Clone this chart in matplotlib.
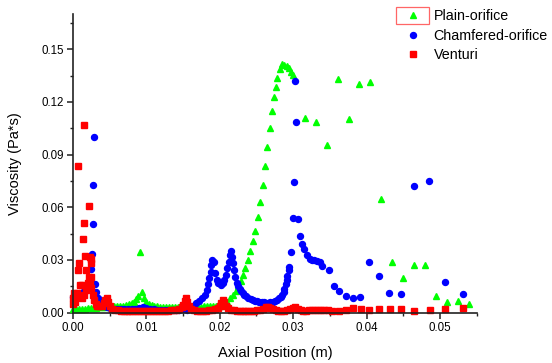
import matplotlib
matplotlib.use("Agg")
import matplotlib.pyplot as plt
from matplotlib.patches import Rectangle

plt.rcParams['font.family'] = ['Liberation Sans', 'DejaVu Sans']

# ---------------- data ----------------
plain_x = [0.0000, 0.0004, 0.0008, 0.0012, 0.0016, 0.0020, 0.0024, 0.0028, 0.0032, 0.0036,
           0.0040, 0.0044, 0.0048, 0.0052, 0.0056, 0.0060, 0.0064, 0.0068, 0.0072, 0.0076,
           0.0080, 0.0083, 0.0086, 0.0089, 0.0091, 0.0094, 0.0097, 0.0100, 0.0103, 0.0107,
           0.0111, 0.0115, 0.0119, 0.0123, 0.0127, 0.0131, 0.0135, 0.0139, 0.0143, 0.0147,
           0.0151, 0.0155, 0.0159, 0.0163, 0.0167, 0.0171, 0.0175, 0.0179, 0.0183, 0.0187,
           0.0191, 0.0195, 0.0200, 0.0205, 0.0210, 0.0214, 0.0218, 0.0222, 0.0225, 0.0229,
           0.0232, 0.0235, 0.0238, 0.0241, 0.0245, 0.0248, 0.0252, 0.0255, 0.0259, 0.0262,
           0.0265, 0.0268, 0.0271, 0.0274, 0.0276, 0.0278, 0.0282, 0.0285, 0.0288, 0.0291,
           0.0294, 0.0297, 0.0300, 0.0316, 0.0331, 0.0346, 0.0361, 0.0376, 0.0390, 0.0405,
           0.0420, 0.0435, 0.0450, 0.0465, 0.0480, 0.0495, 0.0510, 0.0525, 0.0540]
plain_y = [0.0020, 0.0022, 0.0022, 0.0023, 0.0023, 0.0024, 0.0024, 0.0026, 0.0028, 0.0030,
           0.0032, 0.0034, 0.0035, 0.0036, 0.0037, 0.0038, 0.0039, 0.0040, 0.0042, 0.0046,
           0.0052, 0.0062, 0.0075, 0.0092, 0.0345, 0.0118, 0.0085, 0.0062, 0.0050, 0.0042,
           0.0038, 0.0036, 0.0034, 0.0033, 0.0032, 0.0032, 0.0031, 0.0031, 0.0031, 0.0031,
           0.0031, 0.0031, 0.0032, 0.0032, 0.0033, 0.0033, 0.0034, 0.0035, 0.0036, 0.0037,
           0.0038, 0.0039, 0.0040, 0.0050, 0.0062, 0.0080, 0.0100, 0.0125, 0.0150, 0.0180,
           0.0215, 0.0255, 0.0300, 0.0350, 0.0405, 0.0467, 0.0545, 0.0628, 0.0727, 0.0837,
           0.0944, 0.1049, 0.1146, 0.1228, 0.1282, 0.1336, 0.1386, 0.1415, 0.1410, 0.1405,
           0.1390, 0.1372, 0.1355, 0.1106, 0.1083, 0.0956, 0.1330, 0.1104, 0.1303, 0.1314,
           0.0646, 0.0290, 0.0199, 0.0273, 0.0273, 0.0092, 0.0058, 0.0064, 0.0050]

chamf_x = [0.0000, 0.0003, 0.0006, 0.0009, 0.0012, 0.0015, 0.0018, 0.0020, 0.0022, 0.0024,
           0.0025, 0.0026, 0.00273, 0.00277, 0.00286, 0.0030, 0.0032, 0.0034, 0.0036, 0.0039,
           0.0042, 0.0046, 0.0050, 0.0055, 0.0060, 0.0065, 0.0070, 0.0075, 0.0080, 0.0085,
           0.0090, 0.0095, 0.0100, 0.0105, 0.0110, 0.0115, 0.0120, 0.0125, 0.0130, 0.0135,
           0.0140, 0.0145, 0.0150, 0.0153, 0.0156, 0.0160, 0.0164, 0.0168, 0.0172, 0.0176,
           0.0180, 0.0182, 0.0184, 0.0186, 0.0188, 0.01885, 0.0190, 0.01915, 0.0194, 0.0196,
           0.0198, 0.0201, 0.0204, 0.0206, 0.0208, 0.0210, 0.0212, 0.0214, 0.02155, 0.0216,
           0.0218, 0.0219, 0.0221, 0.0223, 0.0225, 0.0227, 0.0229, 0.0231, 0.0233, 0.0236,
           0.0239, 0.0242, 0.0245, 0.0248, 0.0251, 0.0254, 0.0257, 0.0260, 0.0263, 0.0266,
           0.0269, 0.0272, 0.0275, 0.0278, 0.0281, 0.0283, 0.0285, 0.0287, 0.0288, 0.0290,
           0.0291, 0.0292, 0.0294, 0.0295, 0.0297, 0.02996, 0.0301, 0.03027, 0.03045, 0.03072,
           0.03095, 0.03127, 0.03154, 0.03187, 0.03223, 0.03255, 0.0329, 0.03327, 0.03359, 0.0339,
           0.03482, 0.0355, 0.03623, 0.03714, 0.03809, 0.0391, 0.04036, 0.04164, 0.04309, 0.04473,
           0.0465, 0.0485, 0.05068, 0.05314]
chamf_y = [0.0090, 0.0092, 0.0095, 0.0100, 0.0108, 0.0120, 0.0140, 0.0155, 0.0167, 0.0167,
           0.0246, 0.0334, 0.0505, 0.0727, 0.0997, 0.0161, 0.0115, 0.0085, 0.0065, 0.0050,
           0.0040, 0.0032, 0.0026, 0.0022, 0.0020, 0.0019, 0.0018, 0.0018, 0.0019, 0.0021,
           0.0026, 0.0033, 0.0025, 0.0020, 0.0018, 0.0016, 0.0015, 0.0014, 0.0013, 0.0012,
           0.0012, 0.0013, 0.0018, 0.0030, 0.0012, 0.0025, 0.0040, 0.0055, 0.0068, 0.0080,
           0.0100, 0.0128, 0.0160, 0.0195, 0.0233, 0.0270, 0.0300, 0.0290, 0.0224, 0.0185,
           0.0167, 0.0157, 0.0167, 0.0185, 0.0214, 0.0252, 0.0290, 0.0328, 0.0353, 0.0318,
           0.0281, 0.0242, 0.0204, 0.0167, 0.0150, 0.0135, 0.0122, 0.0110, 0.0101, 0.0092,
           0.0084, 0.0077, 0.0072, 0.0068, 0.0064, 0.0062, 0.0060, 0.0058, 0.0057, 0.0057,
           0.0058, 0.0060, 0.0064, 0.0070, 0.0080, 0.0090, 0.0102, 0.0118, 0.0135, 0.0160,
           0.0185, 0.0210, 0.0240, 0.0261, 0.0347, 0.0541, 0.0746, 0.1319, 0.1087, 0.0532,
           0.0438, 0.0392, 0.0360, 0.0328, 0.0305, 0.0299, 0.0299, 0.0294, 0.0288, 0.0265,
           0.0242, 0.0151, 0.0124, 0.0096, 0.0085, 0.0087, 0.0286, 0.0208, 0.0113, 0.0107,
           0.0718, 0.0748, 0.0172, 0.0104]

venturi_x = [0.0000, 0.0000, 0.0002, 0.0003, 0.0005, 0.00064, 0.00072, 0.00082, 0.0009, 0.00095,
             0.0012, 0.0012, 0.00136, 0.00146, 0.00154, 0.00164, 0.00173, 0.0015, 0.0018, 0.0020,
             0.00218, 0.00218, 0.00232, 0.00232, 0.00241, 0.00245, 0.00241, 0.0025, 0.0027, 0.0029,
             0.0031, 0.0033, 0.0036, 0.0039, 0.0042, 0.0044, 0.0046, 0.0048, 0.0050, 0.0053,
             0.0057, 0.0061, 0.0065, 0.0069, 0.0073, 0.0077, 0.0081, 0.0085, 0.0089, 0.0093,
             0.0097, 0.0101, 0.0105, 0.0109, 0.0113, 0.0117, 0.0121, 0.0125, 0.0129, 0.0133,
             0.0137, 0.0141, 0.0145, 0.0148, 0.0150, 0.0152, 0.0154, 0.0156, 0.0158, 0.0161,
             0.0165, 0.0169, 0.0173, 0.0177, 0.0181, 0.0185, 0.0189, 0.0193, 0.0197, 0.0200,
             0.0202, 0.0204, 0.0206, 0.0208, 0.0211, 0.0215, 0.0219, 0.0223, 0.0227, 0.0231,
             0.0235, 0.0239, 0.0243, 0.0247, 0.0251, 0.0255, 0.0259, 0.0263, 0.0266, 0.0269,
             0.0272, 0.0276, 0.0280, 0.0284, 0.0288, 0.0292, 0.0296, 0.0300, 0.0303, 0.0306,
             0.0310, 0.0314, 0.0318, 0.0322, 0.0326, 0.0330, 0.0334, 0.0338, 0.0342, 0.0347,
             0.0353, 0.0362, 0.0372, 0.0381, 0.0392, 0.0404, 0.0417, 0.0432, 0.0447, 0.0465,
             0.0486, 0.0507, 0.0532]
venturi_y = [0.0080, 0.0050, 0.0110, 0.0060, 0.0110, 0.0242, 0.0832, 0.0284, 0.0094, 0.0157,
             0.0157, 0.0085, 0.0421, 0.1070, 0.0509, 0.0322, 0.0242, 0.0100, 0.0130, 0.0170,
             0.0608, 0.0204, 0.0170, 0.0318, 0.0303, 0.0284, 0.0138, 0.0201, 0.0100, 0.0070,
             0.0050, 0.0040, 0.0035, 0.0040, 0.0055, 0.0070, 0.0081, 0.0060, 0.0035, 0.0020,
             0.0015, 0.0012, 0.0011, 0.0010, 0.0010, 0.0010, 0.0010, 0.0010, 0.0010, 0.0011,
             0.0011, 0.0010, 0.0010, 0.0010, 0.0010, 0.0010, 0.0011, 0.0011, 0.0011, 0.0012,
             0.0013, 0.0015, 0.0020, 0.0030, 0.0045, 0.0065, 0.0081, 0.0062, 0.0038, 0.0022,
             0.0014, 0.0011, 0.0010, 0.0010, 0.0011, 0.0012, 0.0014, 0.0018, 0.0025, 0.0038,
             0.0055, 0.0071, 0.0060, 0.0040, 0.0025, 0.0016, 0.0012, 0.0010, 0.0010, 0.0009,
             0.0009, 0.0009, 0.0010, 0.0011, 0.0013, 0.0016, 0.0022, 0.0030, 0.0034, 0.0028,
             0.0018, 0.0012, 0.0010, 0.0010, 0.0011, 0.0013, 0.0018, 0.0026, 0.0030, 0.0020,
             0.0013, 0.0011, 0.0011, 0.0012, 0.0013, 0.0015, 0.0016, 0.0017, 0.0015, 0.0012,
             0.0011, 0.0011, 0.0012, 0.0026, 0.0020, 0.0014, 0.0018, 0.0018, 0.0018, 0.0009,
             0.0013, 0.0022, 0.0027]

series_labels = ["Plain-orifice", "Chamfered-orifice", "Venturi"]
x_ticks = [0.00, 0.01, 0.02, 0.03, 0.04, 0.05]
x_tick_labels = ["0.00", "0.01", "0.02", "0.03", "0.04", "0.05"]
y_ticks = [0.00, 0.03, 0.06, 0.09, 0.12, 0.15]
y_tick_labels = ["0.00", "0.03", "0.06", "0.09", "0.12", "0.15"]

# ---------------- figure ----------------
fig = plt.figure(figsize=(5.52, 3.63), dpi=100)
ax = fig.add_axes([0.1322, 0.139, 0.7313, 0.8223])

ax.plot(plain_x, plain_y, linestyle='none', marker='^', ms=4.8, color='#00FF00',
        mec='#00FF00', label=series_labels[0], clip_on=False)
ax.plot(chamf_x, chamf_y, linestyle='none', marker='o', ms=4.3, color='#0000FF',
        mec='#0000FF', label=series_labels[1], clip_on=False)
ax.plot(venturi_x, venturi_y, linestyle='none', marker='s', ms=3.8, color='#FF0000',
        mec='#FF0000', label=series_labels[2], clip_on=False)

ax.set_xlim(0, 0.055)
ax.set_ylim(0, 0.17)
ax.set_xticks(x_ticks)
ax.set_xticklabels(x_tick_labels)
ax.set_yticks(y_ticks)
ax.set_yticklabels(y_tick_labels)
ax.set_xticks([0.005, 0.015, 0.025, 0.035, 0.045, 0.055], minor=True)
ax.set_yticks([0.015, 0.045, 0.075, 0.105, 0.135, 0.165], minor=True)

for s in ['top', 'right']:
    ax.spines[s].set_visible(False)
for s in ['left', 'bottom']:
    ax.spines[s].set_linewidth(1.2)
    ax.spines[s].set_color('#222222')

ax.tick_params(axis='both', which='major', direction='out', length=4, width=1.1,
               labelsize=8.3, color='#222222', pad=2.5)
ax.tick_params(axis='both', which='minor', direction='out', length=2.5, width=1.0,
               color='#222222')

ax.set_xlabel("Axial Position (m)", fontsize=10.5, labelpad=9)
ax.set_ylabel("Viscosity (Pa*s)", fontsize=10.5, labelpad=14)

leg = ax.legend(loc='upper left', bbox_to_anchor=(0.727, 0.982), bbox_transform=fig.transFigure,
                frameon=False, fontsize=10.3, handlelength=1.2, handletextpad=0.85,
                labelspacing=0.36, borderaxespad=0, borderpad=0.2)

fig.patches.append(Rectangle((396 / 552, 1 - 24 / 363), 33 / 552, 17 / 363,
                             transform=fig.transFigure, fill=False,
                             edgecolor='#FF6666', linewidth=0.9))

fig.savefig("out.png", dpi=100)
